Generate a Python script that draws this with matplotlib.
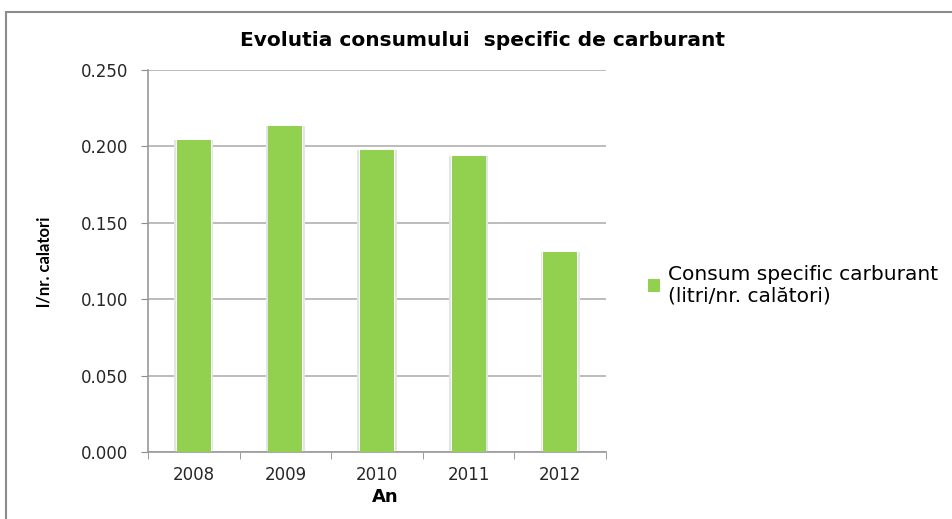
import numpy as np
import matplotlib.pyplot as plt
from matplotlib.patches import Rectangle

years = ['2008', '2009', '2010', '2011', '2012']
consum = [0.204, 0.2134, 0.1976, 0.1937, 0.131]

bar_green = '#92D050'
grid_gray = '#b0b0b0'

fig = plt.figure(figsize=(9.52, 5.19), dpi=100)

# outer chart frame
fig.patches.append(Rectangle((6 / 952, -0.05), 1.1, 1 - 12 / 519 + 0.05,
                             transform=fig.transFigure, fill=False,
                             edgecolor='#8c8c8c', linewidth=1.5))

ax = fig.add_axes([148 / 952, 1 - 452 / 519, 458 / 952, 382 / 519])

x = np.arange(len(years))
# soft shadow behind each bar
ax.bar(x, consum, width=0.43, color='#e4e4e4', zorder=2)
ax.bar(x, consum, width=0.39, color='white', zorder=2.5)
ax.bar(x, consum, width=0.37, color=bar_green, zorder=3,
       label='Consum specific carburant\n(litri/nr. calători)')

ax.set_xlim(-0.5, 4.5)
ax.set_ylim(0, 0.25)
ax.set_yticks(np.arange(0, 0.2501, 0.05))
ax.yaxis.set_major_formatter(plt.FormatStrFormatter('%.3f'))
ax.grid(axis='y', color=grid_gray, linewidth=1.2, zorder=0)

ax.set_xticks(x)
ax.set_xticklabels(years)
ax.set_xticks(np.arange(-0.5, 5, 1), minor=True)
ax.tick_params(axis='x', which='major', length=0, pad=10)
ax.tick_params(axis='x', which='minor', length=5, color='#8c8c8c')
ax.tick_params(axis='y', length=5, color='#8c8c8c', pad=9)

for s in ['top', 'right']:
    ax.spines[s].set_visible(False)
for s in ['left', 'bottom']:
    ax.spines[s].set_color('#9a9a9a')
    ax.spines[s].set_linewidth(1.2)

for lbl in ax.get_xticklabels() + ax.get_yticklabels():
    lbl.set_fontfamily('DejaVu Sans')
    lbl.set_fontsize(12)
    lbl.set_color('#262626')

fig.text(483 / 952, 1 - 40 / 519, 'Evolutia consumului  specific de carburant',
         ha='center', va='center', fontsize=14.5, fontweight='bold', family='DejaVu Sans')
fig.text(45 / 952, 1 - 262 / 519, 'l/nr. calatori', rotation=90,
         ha='center', va='center', fontsize=12, fontweight='bold', family='Lato')
fig.text(385 / 952, 1 - 497 / 519, 'An', ha='center', va='center',
         fontsize=13, fontweight='bold', family='DejaVu Sans')

handles, labels = ax.get_legend_handles_labels()
fig.legend(handles[-1:], labels[-1:], loc='center left',
           bbox_to_anchor=(630 / 952, 1 - 285 / 519), frameon=False,
           prop={'family': 'DejaVu Sans', 'size': 14.5},
           handlelength=0.6, handleheight=0.6, handletextpad=0.4,
           labelspacing=0.2)

fig.savefig('out.png', dpi=100)
